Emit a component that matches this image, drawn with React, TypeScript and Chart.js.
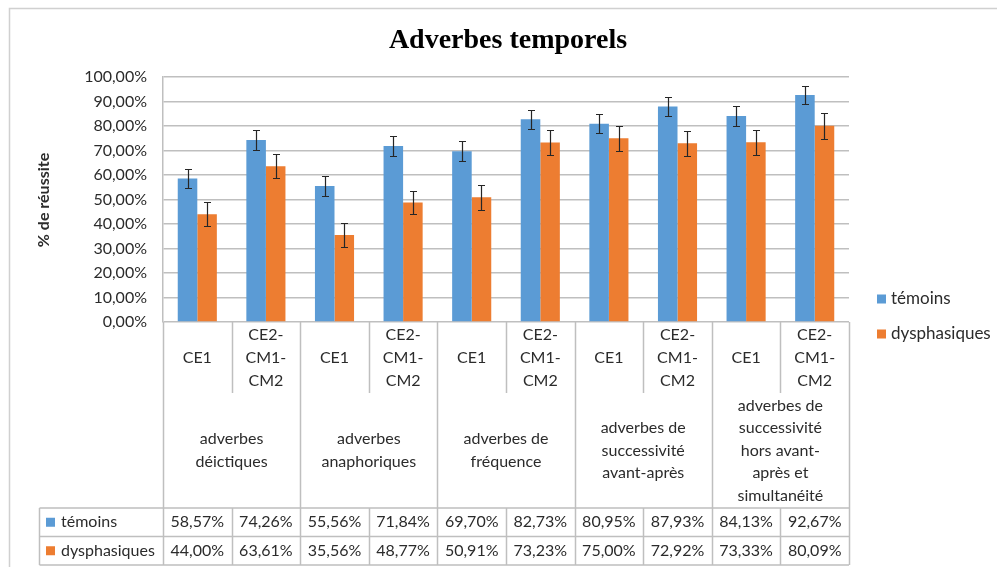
import React, { useEffect, useRef } from "react";
import { Chart, registerables } from "chart.js";

Chart.register(...registerables);

const title = "Adverbes temporels";
const yAxisTitle = "% de réussite";
const seriesNames = ["témoins", "dysphasiques"];
const groupLabels: string[][] = [
  ["adverbes", "déictiques"],
  ["adverbes", "anaphoriques"],
  ["adverbes de", "fréquence"],
  ["adverbes de", "successivité", "avant-après"],
  ["adverbes de", "successivité", "hors avant-", "après et", "simultanéité"],
];
const levelLabels: string[][] = [["CE1"], ["CE2-", "CM1-", "CM2"]];
const temoins = [58.57, 74.26, 55.56, 71.84, 69.7, 82.73, 80.95, 87.93, 84.13, 92.67];
const dysphasiques = [44.0, 63.61, 35.56, 48.77, 50.91, 73.23, 75.0, 72.92, 73.33, 80.09];
const temoinsErr = [4, 4, 4, 4, 4, 4, 4, 3.8, 4, 3.8];
const dysphasiquesErr = [5, 5, 5, 4.8, 5, 5, 5, 5, 5, 5.2];
const yTicks = { min: 0, max: 100, step: 10 };

const categories: string[] = [];
groupLabels.forEach((g) =>
  levelLabels.forEach((l) => categories.push(l.join("") + " " + g.join(" ")))
);

const BLUE = "#5B9BD5";
const ORANGE = "#ED7D31";
const LINE = "#BFBFBF";
const TEXT = "#2b2b2b";
const FONT = "Lato, 'Open Sans', sans-serif";

const fmt = (v: number) => v.toFixed(2).replace(".", ",") + "%";

const errors = [temoinsErr, dysphasiquesErr];

const errorBarPlugin = {
  id: "errorBars",
  afterDatasetsDraw(chart: any) {
    const ctx = chart.ctx;
    const y = chart.scales.y;
    ctx.save();
    ctx.strokeStyle = "#262626";
    ctx.lineWidth = 1.2;
    chart.data.datasets.forEach((ds: any, di: number) => {
      const meta = chart.getDatasetMeta(di);
      meta.data.forEach((bar: any, i: number) => {
        const v = ds.data[i];
        const e = errors[di][i];
        const yt = Math.round(y.getPixelForValue(v + e)) + 0.5;
        const yb = Math.round(y.getPixelForValue(v - e)) + 0.5;
        const x = Math.round(bar.x) + 0.5;
        ctx.beginPath();
        ctx.moveTo(x, yt);
        ctx.lineTo(x, yb);
        ctx.moveTo(x - 3.5, yt);
        ctx.lineTo(x + 3.5, yt);
        ctx.moveTo(x - 3.5, yb);
        ctx.lineTo(x + 3.5, yb);
        ctx.stroke();
      });
    });
    ctx.restore();
  },
};

const decorPlugin = {
  id: "decor",
  beforeDraw(chart: any) {
    const ctx = chart.ctx;
    ctx.save();
    ctx.strokeStyle = "#D0D0D0";
    ctx.lineWidth = 1.5;
    ctx.beginPath();
    ctx.moveTo(9.5, 567);
    ctx.lineTo(9.5, 8.5);
    ctx.lineTo(997, 8.5);
    ctx.stroke();
    ctx.restore();
  },
  afterDraw(chart: any) {
    const ctx = chart.ctx;
    const xs = chart.scales.x;
    const area = chart.chartArea;
    const n = categories.length;
    const catW = xs.getPixelForValue(1) - xs.getPixelForValue(0);
    const edge = (i: number) => xs.getPixelForValue(0) - catW / 2 + i * catW;
    const y0 = area.bottom;
    const subBottom = y0 + 71;
    const tableTop = y0 + 186;
    const rowH = 28.5;
    const tableBottom = tableTop + 2 * rowH;
    const tableLeft = 39.5;

    ctx.save();
    // Title
    ctx.fillStyle = "#000";
    ctx.font = "bold 28px 'Liberation Serif', serif";
    ctx.textAlign = "center";
    ctx.textBaseline = "alphabetic";
    ctx.fillText(title, 508, 48);

    // Y axis title
    ctx.save();
    ctx.translate(44, 200);
    ctx.rotate(-Math.PI / 2);
    ctx.font = "bold 16px " + FONT;
    ctx.fillStyle = TEXT;
    ctx.textAlign = "center";
    ctx.textBaseline = "middle";
    ctx.fillText(yAxisTitle, 0, 0);
    ctx.restore();

    // Table lines
    ctx.strokeStyle = LINE;
    ctx.lineWidth = 1.5;
    ctx.beginPath();
    for (let i = 0; i <= n; i++) {
      const x = Math.round(edge(i)) + 0.5;
      if (i % 2 === 0) {
        ctx.moveTo(x, y0);
        ctx.lineTo(x, tableBottom);
      } else {
        ctx.moveTo(x, y0);
        ctx.lineTo(x, subBottom);
        ctx.moveTo(x, tableTop);
        ctx.lineTo(x, tableBottom);
      }
    }
    for (let r = 0; r <= 2; r++) {
      const yy = tableTop + r * rowH;
      ctx.moveTo(tableLeft, yy);
      ctx.lineTo(edge(n), yy);
    }
    ctx.moveTo(tableLeft, tableTop);
    ctx.lineTo(tableLeft, tableBottom);
    ctx.stroke();

    // Category texts
    ctx.fillStyle = TEXT;
    ctx.font = "16px " + FONT;
    ctx.textAlign = "center";
    ctx.textBaseline = "middle";
    for (let i = 0; i < n; i++) {
      const lines = levelLabels[i % 2];
      const cx = edge(i) + catW / 2;
      const cy = y0 + 36;
      const lh = 23;
      lines.forEach((t, k) => {
        ctx.fillText(t, cx, cy + (k - (lines.length - 1) / 2) * lh);
      });
    }
    groupLabels.forEach((lines, g) => {
      const cx = edge(2 * g) + catW;
      const cy = (subBottom + tableTop) / 2;
      const lh = 22.5;
      lines.forEach((t, k) => {
        ctx.fillText(t, cx, cy + (k - (lines.length - 1) / 2) * lh);
      });
    });

    // Data table
    const colors = [BLUE, ORANGE];
    chart.data.datasets.forEach((ds: any, di: number) => {
      const cy = tableTop + di * rowH + rowH / 2;
      ctx.fillStyle = colors[di];
      ctx.fillRect(46, cy - 4.5, 9, 9);
      ctx.fillStyle = TEXT;
      ctx.textAlign = "left";
      ctx.fillText(ds.label, 61, cy);
      ctx.textAlign = "center";
      ds.data.forEach((v: number, i: number) => {
        ctx.fillText(fmt(v), edge(i) + catW / 2, cy);
      });
    });

    // Legend
    const legY = [299, 334];
    ctx.font = "17px " + FONT;
    chart.data.datasets.forEach((ds: any, di: number) => {
      ctx.fillStyle = colors[di];
      ctx.fillRect(877, legY[di] - 4.5, 9, 9);
      ctx.fillStyle = TEXT;
      ctx.textAlign = "left";
      ctx.fillText(ds.label, 891, legY[di]);
    });
    ctx.restore();
  },
};

export default function App() {
  const ref = useRef<HTMLCanvasElement>(null);
  useEffect(() => {
    if (!ref.current) return;
    const chart = new Chart(ref.current, {
      type: "bar",
      data: {
        labels: categories,
        datasets: [
          { label: seriesNames[0], data: temoins, backgroundColor: BLUE },
          { label: seriesNames[1], data: dysphasiques, backgroundColor: ORANGE },
        ],
      },
      options: {
        animation: false,
        responsive: false,
        layout: { padding: { left: 0, right: 148, top: 77, bottom: 245 } },
        datasets: { bar: { categoryPercentage: 0.57, barPercentage: 1 } },
        plugins: { legend: { display: false }, tooltip: { enabled: false }, title: { display: false } },
        scales: {
          x: { display: false },
          y: {
            min: yTicks.min,
            max: yTicks.max,
            afterFit: (s: any) => {
              s.width = 163;
            },
            ticks: {
              stepSize: yTicks.step,
              padding: 16,
              color: TEXT,
              font: { family: FONT, size: 16 },
              callback: (v: any) => fmt(Number(v)),
            },
            grid: { color: LINE, lineWidth: 1.5, drawTicks: false },
            border: { display: true, color: LINE, width: 1.5 },
          },
        },
      },
      plugins: [decorPlugin, errorBarPlugin],
    } as any);
    return () => chart.destroy();
  }, []);
  return (
    <div style={{ position: "absolute", left: 0, top: 0, width: 997, height: 567, background: "#fff" }}>
      <canvas ref={ref} width={997} height={567} />
    </div>
  );
}
